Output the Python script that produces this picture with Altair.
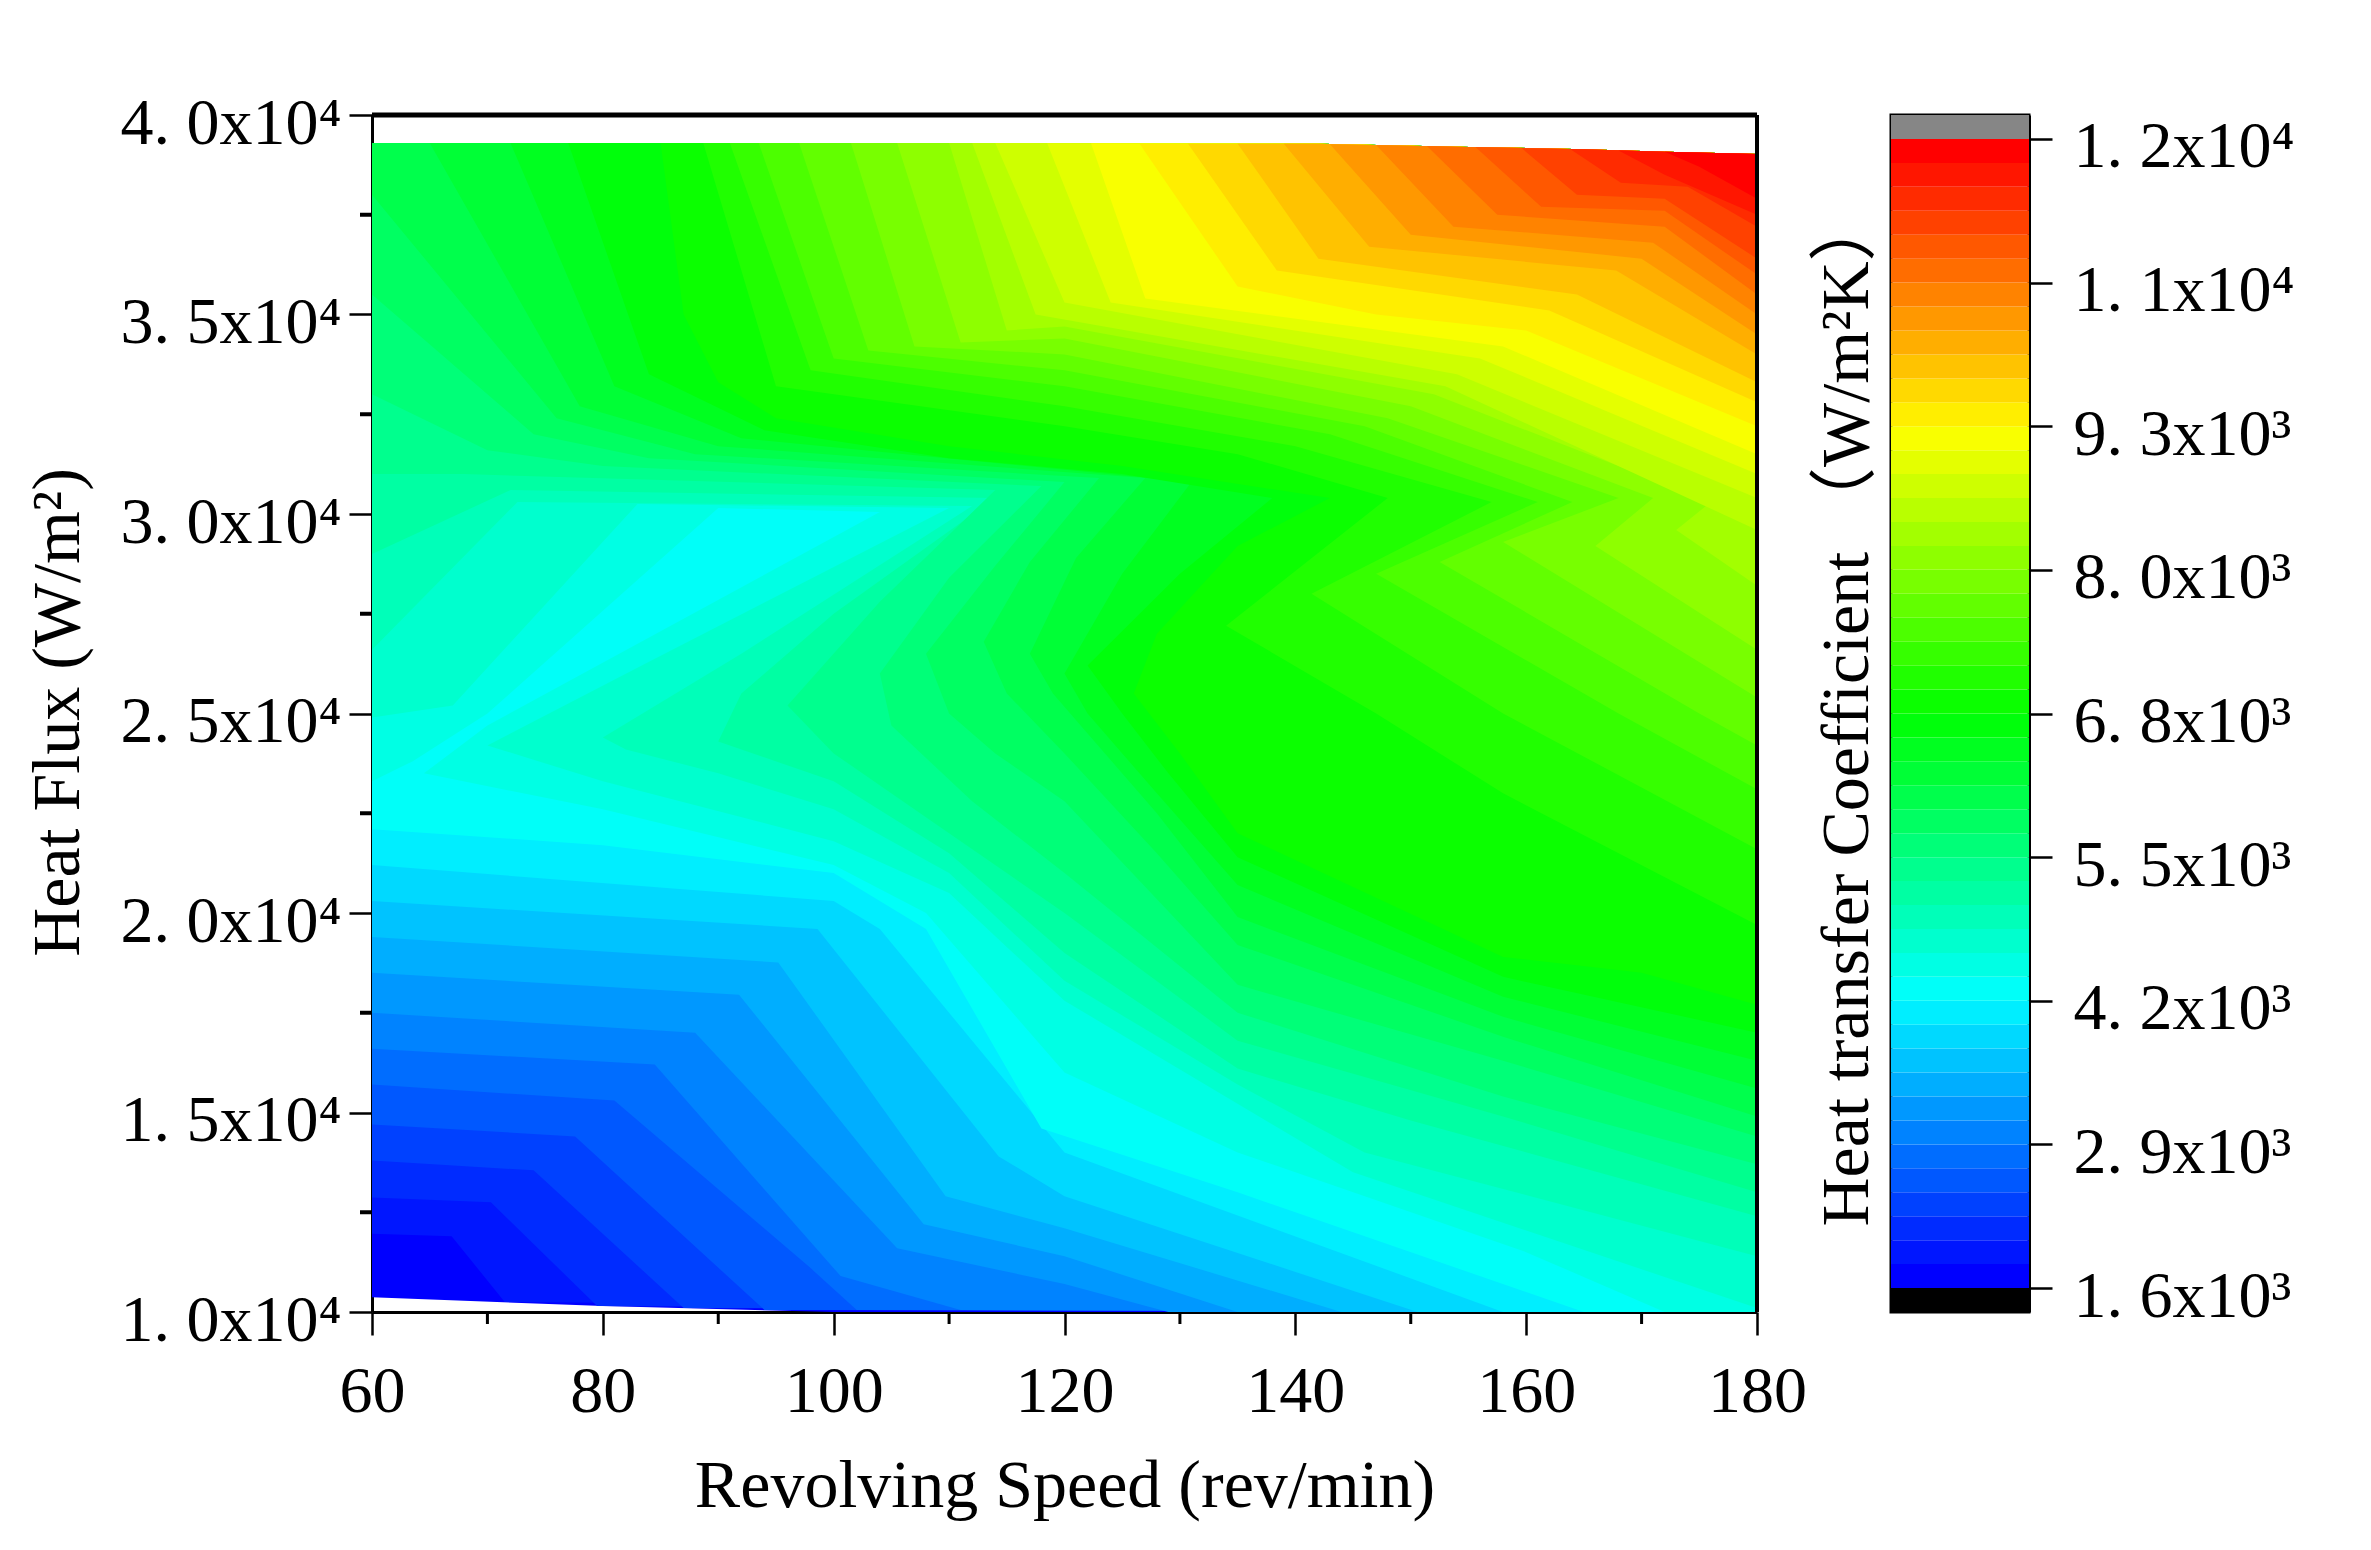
import altair as alt
import pandas as pd

FONT = '"Liberation Serif","Noto Sans CJK SC",serif'

X_TICKS = [60, 80, 100, 120, 140, 160, 180]
X_MINOR = [70, 90, 110, 130, 150, 170]
Y_TICKS = [10000, 15000, 20000, 25000, 30000, 35000, 40000]
Y_LABELS = ["1. 0x10⁴", "1. 5x10⁴", "2. 0x10⁴", "2. 5x10⁴", "3. 0x10⁴", "3. 5x10⁴", "4. 0x10⁴"]
Y_MINOR = [12500, 17500, 22500, 27500, 32500, 37500]
BAR_TICKS = [16, 29, 42, 55, 68, 81, 94, 107, 120]
BAR_LABELS = ["1. 6x10³", "2. 9x10³", "4. 2x10³", "5. 5x10³", "6. 8x10³", "8. 0x10³", "9. 3x10³", "1. 1x10⁴", "1. 2x10⁴"]
RAMP_COLORS = ["#0000ff", "#0080ff", "#00ffff", "#00ff80", "#00ff00", "#80ff00", "#ffff00", "#ff8000", "#ff0000"]

# heat transfer coefficient (hundreds of W/m2K) shown by each colour band
BAND_VALUES = [16, 18.2, 20.4, 22.6, 24.9, 27.1, 29.3, 31.5, 33.7, 35.9, 38.1, 40.3, 42.6, 44.8, 47, 49.2,
               51.4, 53.6, 55.8, 58, 60.3, 62.5, 64.7, 66.9, 69.1, 71.3, 73.5, 75.7, 78, 80.2, 82.4, 84.6,
               86.8, 89, 91.2, 93.4, 95.7, 97.9, 100.1, 102.3, 104.5, 106.7, 108.9, 111.1, 113.4, 115.6, 117.8, 120]
BAND_EDGES = [16, 18.17, 20.33, 22.5, 24.67, 26.83, 29, 31.17, 33.33, 35.5, 37.67, 39.83, 42, 44.17, 46.33, 48.5,
              50.67, 52.83, 55, 57.17, 59.33, 61.5, 63.67, 65.83, 68, 70.17, 72.33, 74.5, 76.67, 78.83, 81, 83.17,
              85.33, 87.5, 89.67, 91.83, 94, 96.17, 98.33, 100.5, 102.67, 104.83, 107, 109.17, 111.33, 113.5, 115.67, 117.83, 120]
BAR_LOW = 13.83
BAR_HIGH = 122.17

# edge of the drawn field, (rev/min, heat flux in 10^3 W/m2)
FIELD_EDGE = [(180, 10), (180, 39.02), (172, 39.08), (165, 39.14), (155, 39.2), (142, 39.28), (60, 39.3)]

# contour of each band: the band and all higher ones lie beyond the line
CONTOURS = [
    [(60, 10.37), (80, 10.15), (100, 10.0)],
    [(60, 11.96), (66.9, 11.9), (71.5, 10.25)],
    [(60, 12.87), (70.3, 12.75), (79.5, 10.15)],
    [(60, 13.8), (74, 13.55), (87, 10.1)],
    [(60, 14.7), (77.6, 14.4), (94, 10.05)],
    [(60, 15.7), (81, 15.3), (98, 11.1), (102, 10.05)],
    [(60, 16.6), (84.5, 16.2), (100.6, 10.9), (111, 10.05)],
    [(60, 17.5), (88, 17), (105.5, 11.6), (120, 10.7), (129, 10)],
    [(60, 18.5), (91.8, 17.95), (107.8, 12.2), (120, 11.4), (135, 10)],
    [(60, 19.4), (95.2, 18.76), (109.7, 12.9), (120, 12.1), (144, 10)],
    [(60, 20.3), (98.6, 19.6), (114.3, 13.9), (120, 12.9), (150.6, 10)],
    [(60, 21.2), (100, 20.3), (104, 19.6), (120, 14), (158, 10)],
    [(60, 22.1), (80, 21.7), (100, 21), (108, 19.6), (118, 14.6), (135, 13), (165, 10)],
    [(60, 23.3), (63.5, 23.8), (70, 25), (90, 30.15), (104, 30.05), (70, 24.7), (64.5, 23.5), (80, 22.6), (100, 21.2), (108, 20), (120, 16), (135, 14), (160, 11.5), (172, 10)],
    [(60, 24.9), (67, 25.2), (83, 30.25), (110, 30.15), (84, 26.3), (70, 24.2), (80, 23.3), (100, 21.8), (110, 20.5), (120, 17.8), (145, 13.5), (180, 10.1)],
    [(60, 26.6), (72.6, 30.3), (112, 30.2), (92, 26.5), (80, 24.4), (82, 24.1), (90, 23.5), (100, 22.6), (110, 21), (120, 18.3), (135, 15.7), (146, 14), (180, 11.4)],
    [(60, 29), (72, 30.6), (114, 30.4), (100, 27.5), (92, 25.5), (90, 24.3), (100, 23.3), (110, 21.5), (120, 19), (135, 16.1), (150, 14.8), (180, 12.4)],
    [(60, 31), (68, 31), (114, 30.6), (104, 27.8), (96, 25.2), (100, 24), (110, 22), (120, 20), (135, 16.8), (158, 14.9), (180, 13)],
    [(60, 33), (70, 31.6), (80, 31.2), (118, 30.7), (110, 28.4), (104, 26), (105, 24.7), (112, 22.8), (120, 21), (135, 17.5), (158, 15.4), (180, 13.7)],
    [(60, 35.5), (74, 32), (84, 31.4), (120, 30.8), (114, 28.7), (108, 26.5), (110, 25), (114, 24), (120, 22.8), (135, 18.2), (158, 16.3), (180, 14.4)],
    [(60, 38), (76, 32.4), (88, 31.5), (123, 30.9), (117, 28.8), (113, 26.8), (115, 25.5), (120, 24), (128, 21.5), (135, 19.2), (158, 16.9), (180, 14.9)],
    [(65, 39.3), (78, 32.7), (90, 31.7), (127, 30.9), (121, 28.9), (117, 26.5), (119, 25.5), (122, 24.5), (128, 22.5), (135, 19.9), (158, 17.4), (180, 15.6)],
    [(72, 39.3), (81, 33.2), (92, 31.9), (131, 30.8), (125, 28.5), (120, 26), (122, 25), (128, 23), (135, 20.7), (158, 17.9), (180, 16.3)],
    [(77, 39.3), (84, 33.5), (94, 32.1), (110, 31.4), (125, 31), (138, 30.4), (130, 28.5), (122, 26.2), (125, 25), (129, 23.5), (135, 21.4), (158, 18.4), (180, 17)],
    [(85, 39.3), (87, 35), (90, 33.3), (95, 32.4), (110, 31.7), (125, 31.2), (143, 30.4), (135, 29.2), (128, 27), (126, 25.5), (130, 24), (135, 22), (158, 18.9), (170, 18.5), (180, 17.7)],
    [(88.7, 39.3), (95, 33.2), (120, 32.2), (135, 31.5), (148, 30.4), (134, 27.2), (147, 25), (158, 23), (180, 19.7)],
    [(91, 39.3), (98, 33.6), (120, 32.7), (140, 31.7), (157, 30.3), (141.4, 28), (158, 25), (180, 21.6)],
    [(93.5, 39.3), (100, 33.9), (120, 33.2), (143, 32), (161, 30.3), (147, 28.5), (168, 25), (180, 23.1)],
    [(97, 39.3), (103, 34.1), (120, 33.6), (146, 32.2), (164, 30.3), (152.5, 28.8), (175, 25), (180, 24.2)],
    [(101.5, 39.3), (107, 34.2), (120, 34), (148, 32.4), (168, 30.4), (158, 29.3), (180, 25.4)],
    [(105.5, 39.3), (111, 34.3), (120, 34.4), (150, 32.7), (171, 30.4), (166, 29.2), (180, 26.6)],
    [(110, 39.3), (115, 34.6), (120, 34.7), (152, 33), (176, 30.3), (173, 29.6), (180, 28.2)],
    [(112, 39.3), (117.5, 35), (153, 33.2), (180, 29.6)],
    [(114, 39.3), (120, 35.3), (154, 33.5), (180, 30.4)],
    [(118.5, 39.29), (124, 35.3), (156, 33.9), (180, 31)],
    [(122.3, 39.29), (127, 35.4), (158, 34.2), (180, 31.5)],
    [(126.5, 39.28), (135, 35.7), (147, 35), (160, 34.6), (180, 32.2)],
    [(130.7, 39.28), (138.4, 36.1), (162, 35.1), (180, 32.8)],
    [(135, 39.28), (142, 36.4), (164.4, 35.5), (180, 33.3)],
    [(139, 39.28), (146.4, 36.7), (167.8, 36.1), (180, 34)],
    [(143, 39.27), (150, 37), (170, 36.4), (180, 34.5)],
    [(147, 39.25), (153.7, 37.2), (171, 36.8), (180, 35)],
    [(151.4, 39.22), (157.5, 37.5), (172, 37.2), (180, 35.5)],
    [(155.6, 39.2), (161.3, 37.7), (172, 37.6), (180, 36)],
    [(159.6, 39.17), (164.4, 38), (172, 37.9), (180, 36.4)],
    [(163.8, 39.15), (168.2, 38.3), (174, 38.2), (180, 37.2)],
    [(168, 39.11), (172, 38.5), (180, 37.5)],
    [(172, 39.08), (175, 38.7), (180, 37.9)],
]

rows = []
for band, path in enumerate(CONTOURS):
    start_x = path[0][0]
    closing = [p for p in FIELD_EDGE if start_x == 60 or p[0] > start_x]
    for i, (rev, flux) in enumerate(path + closing):
        rows.append({"band": band, "i": i, "rev": rev, "flux": flux * 1000, "value": BAND_VALUES[band]})
field = pd.DataFrame(rows)

color_scale = alt.Scale(domain=BAR_TICKS, range=RAMP_COLORS, interpolate="rgb", clamp=True)
x_scale = alt.Scale(domain=[60, 180], nice=False, zero=False)
y_scale = alt.Scale(domain=[10000, 40000], nice=False, zero=False)


def label_expr(ticks, labels):
    return "[" + ",".join(f"'{t}'" for t in labels) + "][indexof([" + ",".join(str(t) for t in ticks) + "],datum.value)]"


x_axis = alt.Axis(values=X_TICKS, title="Revolving Speed (rev/min)", tickSize=23, tickWidth=2.5,
                  domainWidth=3, domainColor="black", tickColor="black", labelPadding=24,
                  titlePadding=28, labelFontSize=66, titleFontSize=68, labelFont=FONT, titleFont=FONT,
                  titleFontWeight="normal", labelColor="black", titleColor="black", grid=False,
                  labelFlush=False, labelOverlap=False, format="d")
y_axis = alt.Axis(values=Y_TICKS, title="Heat Flux (W/m²)", tickSize=23, tickWidth=2.5,
                  domainWidth=3, domainColor="black", tickColor="black", labelPadding=8,
                  titleX=-280, titleY=597, labelFontSize=66, titleFontSize=68, labelFont=FONT, titleFont=FONT,
                  titleFontWeight="normal", labelColor="black", titleColor="black", grid=False,
                  labelOffset=8, labelOverlap=False, labelLimit=0, labelExpr=label_expr(Y_TICKS, Y_LABELS))

polys = alt.Chart(field).mark_line(strokeWidth=0, interpolate="linear").encode(
    x=alt.X("rev:Q", scale=x_scale, axis=x_axis),
    y=alt.Y("flux:Q", scale=y_scale, axis=y_axis),
    fill=alt.Fill("value:Q", scale=color_scale, legend=None),
    detail="band:O",
    order="i:Q",
)

minor_x = alt.Chart(pd.DataFrame({"rev": X_MINOR})).mark_rule(color="black", strokeWidth=3).encode(
    x=alt.X("rev:Q", scale=x_scale), y=alt.value(1197), y2=alt.value(1209))
minor_y = alt.Chart(pd.DataFrame({"flux": Y_MINOR})).mark_rule(color="black", strokeWidth=4).encode(
    y=alt.Y("flux:Q", scale=y_scale), x=alt.value(-12), x2=alt.value(0))
top_line = alt.Chart(pd.DataFrame({"a": [60], "b": [180], "f": [40000]})).mark_rule(color="black", strokeWidth=5).encode(
    x=alt.X("a:Q", scale=x_scale), x2="b:Q", y=alt.Y("f:Q", scale=y_scale))
right_line = alt.Chart(pd.DataFrame({"r": [180], "a": [10000], "b": [40000]})).mark_rule(color="black", strokeWidth=4).encode(
    x=alt.X("r:Q", scale=x_scale), y=alt.Y("a:Q", scale=y_scale), y2="b:Q")

main = alt.layer(polys, minor_x, minor_y, top_line, right_line).properties(width=1385, height=1197)

bar_scale = alt.Scale(domain=[BAR_LOW, BAR_HIGH], nice=False, zero=False)
bar_df = pd.DataFrame({"lo": BAND_EDGES[:-1], "hi": BAND_EDGES[1:], "value": BAND_VALUES})
bar_axis = alt.Axis(orient="right", values=BAR_TICKS, title=None, tickSize=23, tickWidth=2.5,
                    domainWidth=3, domainColor="black", tickColor="black", labelPadding=21,
                    labelFontSize=66, labelFont=FONT, labelColor="black", grid=False,
                    labelOffset=8, labelOverlap=False, labelLimit=0, labelExpr=label_expr(BAR_TICKS, BAR_LABELS))
bar = alt.Chart(bar_df).mark_rect().encode(
    x=alt.value(0), x2=alt.value(138),
    y=alt.Y("lo:Q", scale=bar_scale, axis=bar_axis), y2="hi:Q",
    fill=alt.Fill("value:Q", scale=color_scale, legend=None),
)
below = alt.Chart(pd.DataFrame({"lo": [BAR_LOW], "hi": [BAND_EDGES[0]]})).mark_rect(color="#000000").encode(
    x=alt.value(0), x2=alt.value(138), y=alt.Y("lo:Q", scale=bar_scale), y2="hi:Q")
above = alt.Chart(pd.DataFrame({"lo": [BAND_EDGES[-1]], "hi": [BAR_HIGH]})).mark_rect(color="#868686").encode(
    x=alt.value(0), x2=alt.value(138), y=alt.Y("lo:Q", scale=bar_scale), y2="hi:Q")
bar_title = alt.Chart(pd.DataFrame({"t": ["Heat transfer Coefficient （W/m²K）"]})).mark_text(
    angle=270, font=FONT, fontSize=68, color="black", align="center", baseline="middle").encode(
    text="t:N", x=alt.value(-43), y=alt.value(595))

colorbar = alt.layer(bar, below, above, bar_title).properties(
    width=138, height=1197, view=alt.ViewBackground(stroke="black", strokeWidth=3))

chart = alt.hconcat(main, colorbar, spacing=134, bounds="flush").resolve_scale(
    fill="independent", x="independent", y="independent"
).properties(
    padding={"left": 16, "top": 82, "right": 5, "bottom": 5}, background="white"
).configure_view(stroke=None)

chart.save("out.html", embed_options={"renderer": "svg", "actions": False})
